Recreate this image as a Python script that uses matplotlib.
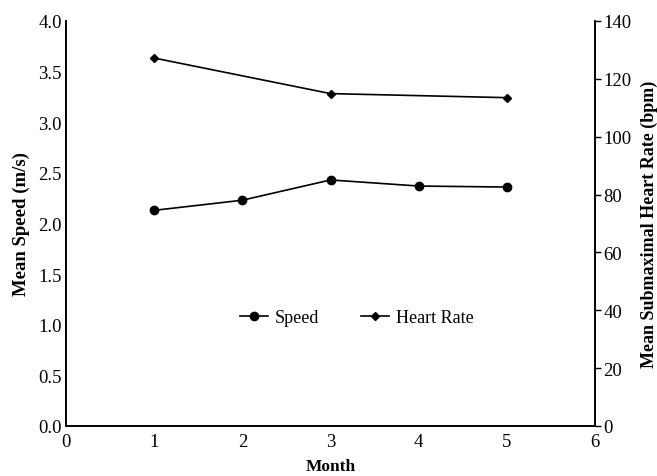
import matplotlib.pyplot as plt

plt.rcParams['font.family'] = ['Liberation Serif', 'DejaVu Serif']

# data
month_speed = [1, 2, 3, 4, 5]
speed = [2.13, 2.23, 2.43, 2.37, 2.36]
month_hr = [1, 3, 5]
heart_rate = [127.2, 114.9, 113.5]

fig = plt.figure(figsize=(6.57, 4.77), dpi=100)
ax = fig.add_axes([66/657, 50/477, 529/657, 405/477])
ax2 = ax.twinx()

l1, = ax.plot(month_speed, speed, color="black", lw=1.2, marker="o", markersize=6, label="Speed")
l2, = ax2.plot(month_hr, heart_rate, color="black", lw=1.2, marker="D", markersize=4.5, label="Heart Rate")

ax.set_xlim(0, 6)
ax.set_ylim(0, 4.0)
ax2.set_ylim(0, 140)
ax.set_xticks(range(0, 7))
ax.set_yticks([i * 0.5 for i in range(9)])
ax.set_yticklabels([f"{i * 0.5:.1f}" for i in range(9)])
ax2.set_yticks(range(0, 141, 20))

for a in (ax, ax2):
    a.spines['top'].set_visible(False)
    for s in a.spines.values():
        s.set_linewidth(1.2)
ax.tick_params(axis='x', length=0, labelsize=13.5, pad=5)
ax.tick_params(axis='y', length=0, labelsize=13.5, pad=3)
ax2.tick_params(axis='y', length=4, width=1, labelsize=13.5, pad=2)

ax.set_xlabel("Month", fontsize=12.5, fontweight="bold", labelpad=6)
ax.set_ylabel("Mean Speed (m/s)", fontsize=13.5, fontweight="bold", labelpad=6)
ax2.set_ylabel("Mean Submaximal Heart Rate (bpm)", fontsize=13, fontweight="bold", labelpad=7)

ax.legend([l1, l2], ["Speed", "Heart Rate"], loc="center", bbox_to_anchor=(0.55, 0.267),
          ncol=2, frameon=False, fontsize=13, handlelength=1.55, columnspacing=2.3, handletextpad=0.4)

fig.savefig("out.png", dpi=100)
